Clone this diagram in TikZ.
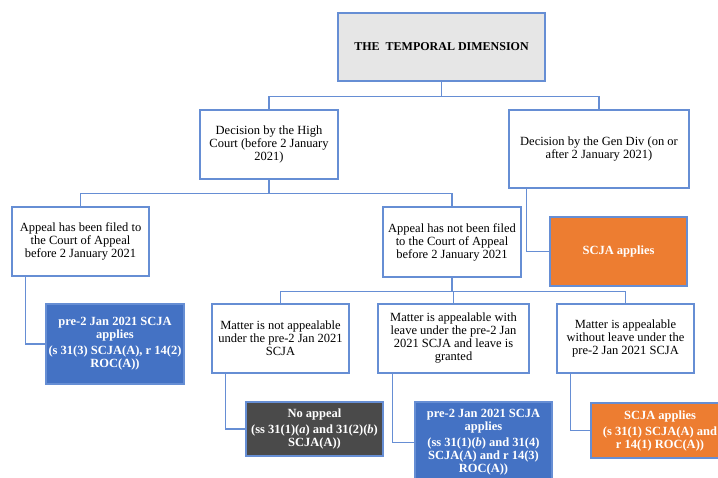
\documentclass[tikz,border=0pt]{standalone}
\usepackage{fontspec}
\setmainfont{Liberation Serif}

\definecolor{linec}{RGB}{102,142,212}
\definecolor{topgray}{RGB}{230,230,230}
\definecolor{boxblue}{RGB}{68,114,196}
\definecolor{boxorange}{RGB}{237,125,49}
\definecolor{boxdark}{RGB}{74,74,74}

\begin{document}
\begin{tikzpicture}[x=1pt,y=-1pt,
		box/.style={draw=linec, line width=1.1pt, fill=white, align=center, inner sep=0pt,
			minimum width=\boxw, minimum height=\boxh, font=\fontsize{12.5}{13}\selectfont},
		fullbox/.style={box, fill=#1, text=white, font=\fontsize{12.5}{13}\selectfont\bfseries},
		link/.style={draw=linec, line width=1.1pt}]
				%defs
				\def\boxw{137}
				\def\boxh{69}
				\def\drop{14}
				\useasboundingbox (0,0) rectangle (718,477);
				%boxes
				\node[box, fill=topgray, minimum width=207, minimum height=68,
					font=\fontsize{12}{13}\selectfont\bfseries] (top) at (441.5,47) {THE\enspace TEMPORAL DIMENSION};
				\node[box, minimum width=138] (hc) at (269,144.5) {Decision by the High\\Court (before 2 January\\2021)};
				\node[box, minimum width=180, minimum height=78] (gen) at (599,149) {Decision by the Gen Div (on or\\after 2 January 2021)};
				\node[box] (filed) at (80.5,241.5) {Appeal has been filed to\\the Court of Appeal\\before 2 January 2021};
				\node[box, minimum width=138, minimum height=70] (notfiled) at (452,242) {Appeal has not been filed\\to the Court of Appeal\\before 2 January 2021};
				\node[fullbox=boxorange] (scja) at (618.5,251.5) {SCJA applies};
				\node[fullbox=boxblue, minimum width=138, minimum height=80] (preA) at (115,344) {pre-2 Jan 2021 SCJA\\applies\\[3pt](s 31(3) SCJA(A), r 14(2)\\ROC(A))};
				\node[box] (notapp) at (280.5,338.5) {Matter is not appealable\\under the pre-2 Jan 2021\\SCJA};
				\node[box, minimum width=151] (leave) at (453.5,338.5) {Matter is appealable with\\leave under the pre-2 Jan\\2021 SCJA and leave is\\granted};
				\node[box] (noleave) at (625.5,338.5) {Matter is appealable\\without leave under the\\pre-2 Jan 2021 SCJA};
				\node[fullbox=boxdark, minimum height=54] (noappeal) at (314.5,429) {No appeal\\[3pt](ss 31(1)(\textit{a}) and 31(2)(\textit{b})\\SCJA(A))};
				\node[fullbox=boxblue, minimum height=81] (preB) at (483.5,442.5) {pre-2 Jan 2021 SCJA\\applies\\[3pt](ss 31(1)(\textit{b}) and 31(4)\\SCJA(A) and r 14(3)\\ROC(A))};
				\node[fullbox=boxorange, minimum width=138, minimum height=55] (scjaB) at (660,430.5) {SCJA applies\\[3pt](s 31(1) SCJA(A) and\\r 14(1) ROC(A))};
				%lines
				\draw[link] (top.south) -- ++(0,15) -| (hc.north);
				\draw[link] (top.south) -- ++(0,15) -| (gen.north);
				\draw[link] (hc.south) -- ++(0,\drop) -| (filed.north);
				\draw[link] (hc.south) -- ++(0,\drop) -| (notfiled.north);
				\draw[link] (notfiled.south) -- ++(0,\drop) -| (notapp.north);
				\draw[link] (notfiled.south) -- ++(0,\drop) -| (leave.north);
				\draw[link] (notfiled.south) -- ++(0,\drop) -| (noleave.north);
				\draw[link] ([xshift=18pt]gen.south west) |- (scja.west);
				\draw[link] ([xshift=14pt]filed.south west) |- (preA.west);
				\draw[link] ([xshift=14pt]notapp.south west) |- (noappeal.west);
				\draw[link] ([xshift=15pt]leave.south west) |- (preB.west);
				\draw[link] ([xshift=14pt]noleave.south west) |- (scjaB.west);
			\end{tikzpicture}
\end{document}
